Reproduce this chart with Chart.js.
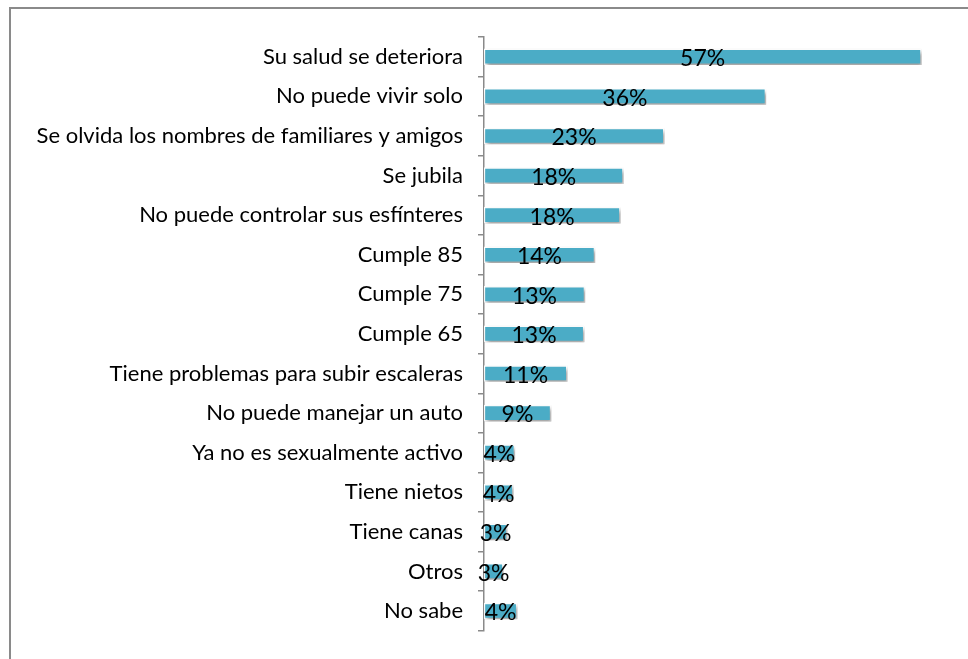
<!DOCTYPE html>
<html>
<head>
<meta charset="utf-8">
<script src="https://cdn.jsdelivr.net/npm/chart.js@4"></script>
<style>
  html, body { margin: 0; padding: 0; background: #ffffff; overflow: hidden; }
  #wrap { position: relative; width: 968px; height: 659px; }
  #frame { position: absolute; left: 9px; top: 7px; width: 1200px; height: 900px;
           border-left: 2px solid #8a8a8a; border-top: 2px solid #8a8a8a; box-sizing: border-box; }
  canvas { position: absolute; left: 0; top: 0; }
</style>
</head>
<body>
<div id="wrap">
  <div id="frame"></div>
  <canvas id="c" width="968" height="659"></canvas>
</div>
<script>
const categories = [
  "Su salud se deteriora",
  "No puede vivir solo",
  "Se olvida los nombres de familiares y amigos",
  "Se jubila",
  "No puede controlar sus esfínteres",
  "Cumple 85",
  "Cumple 75",
  "Cumple 65",
  "Tiene problemas para subir escaleras",
  "No puede manejar un auto",
  "Ya no es sexualmente activo",
  "Tiene nietos",
  "Tiene canas",
  "Otros",
  "No sabe"
];
const values = [56.8, 36.6, 23.4, 18.1, 17.7, 14.4, 13.1, 13.0, 10.8, 8.7, 4.0, 3.8, 3.0, 2.5, 4.3];
const valueLabels = ["57%", "36%", "23%", "18%", "18%", "14%", "13%", "13%", "11%", "9%", "4%", "4%", "3%", "3%", "4%"];

const barShadow = {
  id: 'barShadow',
  beforeDatasetsDraw(chart) {
    const ctx = chart.ctx;
    ctx.save();
    ctx.shadowColor = 'rgba(0,0,0,0.38)';
    ctx.shadowBlur = 4;
    ctx.shadowOffsetX = 2;
    ctx.shadowOffsetY = 3;
  },
  afterDatasetsDraw(chart) {
    chart.ctx.restore();
  }
};

const centerLabels = {
  id: 'centerLabels',
  afterDatasetsDraw(chart) {
    const ctx = chart.ctx;
    const meta = chart.getDatasetMeta(0);
    ctx.save();
    ctx.shadowColor = 'transparent';
    ctx.font = '23px Lato, "Open Sans", sans-serif';
    ctx.fillStyle = '#000000';
    ctx.textAlign = 'center';
    ctx.textBaseline = 'middle';
    meta.data.forEach((bar, i) => {
      const cx = (bar.x + bar.base) / 2;
      ctx.fillText(valueLabels[i], cx, bar.y + 2);
    });
    ctx.restore();
  }
};

new Chart(document.getElementById('c'), {
  type: 'bar',
  data: {
    labels: categories,
    datasets: [{
      data: values,
      backgroundColor: '#4BACC6',
      borderColor: '#ffffff',
      borderWidth: 1.5,
      borderSkipped: false,
      barThickness: 16
    }]
  },
  options: {
    indexAxis: 'y',
    responsive: false,
    animation: false,
    devicePixelRatio: 1,
    layout: { padding: { left: 0, right: 22, top: 37, bottom: 22 } },
    plugins: { legend: { display: false }, tooltip: { enabled: false } },
    scales: {
      x: { display: false, min: 0, max: 60 },
      y: {
        afterFit(scale) { scale.width = 484; },
        border: { display: true, color: '#8a8a8a', width: 1.5 },
        grid: { drawOnChartArea: false, drawTicks: true, tickLength: 6, color: '#8a8a8a', lineWidth: 1.5, offset: true },
        ticks: { color: '#000000', padding: 15, font: { family: 'Lato, "Open Sans", sans-serif', size: 22 } }
      }
    }
  },
  plugins: [barShadow, centerLabels]
});
</script>
</body>
</html>
